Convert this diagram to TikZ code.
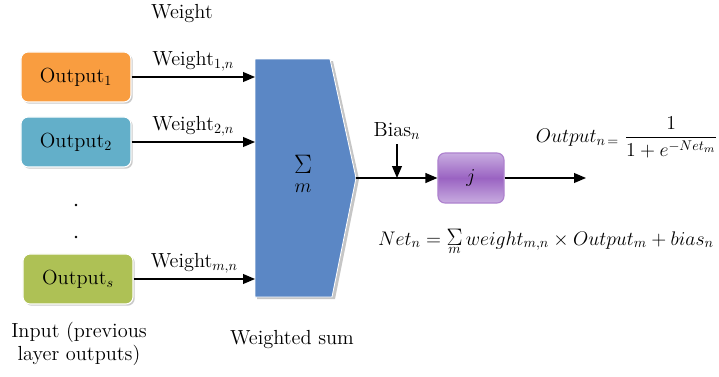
\RequirePackage{fix-cm}
\documentclass[tikz,border=0pt]{standalone}
\usetikzlibrary{arrows.meta,shadows,positioning}
\DeclareMathSizes{14.5}{14}{10}{7.5}
\definecolor{outorange}{HTML}{F99D40}
\definecolor{outteal}{HTML}{63AFC9}
\definecolor{outgreen}{HTML}{AEC155}
\definecolor{sumblue}{HTML}{5B87C5}
\definecolor{jlight}{HTML}{C8ACE0}
\definecolor{jdark}{HTML}{9A63C2}
\tikzset{
  every node/.style={font=\fontsize{14.5}{16}\selectfont},
  outbox/.style={draw=white, line width=0.8pt, rounded corners=5pt,
    minimum width=2.75cm, minimum height=1.25cm,
    drop shadow={shadow xshift=1.2pt, shadow yshift=-1.2pt, fill=black!35, opacity=0.6}},
  jbox/.style={draw=jdark!80, line width=0.8pt, rounded corners=5pt,
    minimum width=1.65cm, minimum height=1.25cm,
    top color=jlight, bottom color=jlight, middle color=jdark},
  arr/.style={line width=1pt, -{Triangle[length=8.5pt,width=7pt]}}
}
\begin{document}
\begin{tikzpicture}[x=0.025cm,y=-0.025cm]
  \useasboundingbox (0,0) rectangle (719,376);
  \node (wlabel) at (182,14) {Weight};
  \node [outbox, fill=outorange] (out1) at (76,77) {Output$_1$};
  \node [outbox, fill=outteal] (out2) at (76,142) {Output$_2$};
  \node [outbox, fill=outgreen] (outs) at (78,279) {Output$_s$};
  \node [circle, fill, inner sep=0.7pt] (dot1) at (76,205) {};
  \node [circle, fill, inner sep=0.7pt] (dot2) at (76,237) {};
  \coordinate (sumNW) at (255,59);
  \coordinate (sumNE) at (330,59);
  \coordinate (sumtip) at (356,178);
  \coordinate (sumSE) at (332,297);
  \coordinate (sumSW) at (255,297);
  \fill [gray!45] (257,61) -- (333,61) -- (359,179) -- (335,299) -- (257,299) -- cycle;
  \draw [white, fill=sumblue, line width=0.6pt] (sumNW) -- (sumNE) -- (sumtip) -- (sumSE) -- (sumSW) -- cycle;
  \node [align=center] (sigma) at (303,174) {{\fontsize{19}{20}\selectfont$\Sigma$}\\[-2pt]$m$};
  \draw [arr] (out1.east) -- node [above] {Weight$_{1,n}$} (out1.east -| sumSW);
  \draw [arr] (out2.east) -- node [above] {Weight$_{2,n}$} (out2.east -| sumSW);
  \draw [arr] (outs.east) -- node [above] {Weight$_{m,n}$} (outs.east -| sumSW);
  \node [jbox] (j) at (471,178) {$j$};
  \draw [arr] (sumtip) -- (j.west);
  \node (bias) at (397,131) {Bias$_n$};
  \draw [arr] (bias) -- (bias |- sumtip);
  \coordinate (outend) at (586,178);
  \draw [arr] (j.east) -- (outend);
  \node [anchor=east, inner sep=0pt] (outeq) at (718,137) {$Output_{n\,=}\;\displaystyle\frac{1}{1+e^{-Net_m}}$};
  \node [anchor=base] (neteq) at (546,245) {$Net_n = \mathop{\hbox{\fontsize{17}{18}\selectfont$\Sigma$}}\limits_m weight_{m,n} \times Output_m + bias_n$};
  \node [align=center] (inlabel) at (79,344) {Input (previous\\layer outputs)};
  \node (sumlabel) at (292,340) {Weighted sum};
\end{tikzpicture}
\end{document}
